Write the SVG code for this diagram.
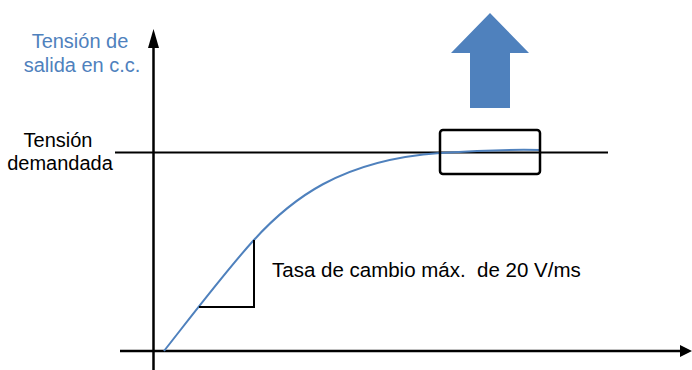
<svg xmlns="http://www.w3.org/2000/svg" width="692" height="370" viewBox="0 0 692 370">
<style>
.lbl{font-family:"Liberation Sans",Arial,sans-serif;font-size:20px;text-anchor:middle}
.blue{fill:#4F81BD}
.blk{fill:#000}
.ax{stroke:#000;stroke-width:2.5;fill:none}
.ln{stroke:#000;stroke-width:2;fill:none}
</style>
<g id="connectors">
<line class="ax" x1="153.5" y1="370" x2="153.5" y2="40"/>
<path d="M148,48 L153.5,29 L159,48 Z" fill="#000"/>
<line class="ax" x1="120" y1="351" x2="682" y2="351"/>
<path d="M680,345 L692,351 L680,357 Z" fill="#000"/>
<line class="ln" x1="115" y1="152.5" x2="608" y2="152.5"/>
<path d="M164,351 C190,318 225,272 253,241 C290,200 340,160 440,153 C470,151 500,149 541,150" fill="none" stroke="#4F81BD" stroke-width="2"/>
<path class="ln" d="M199,307 L254,307 L254,240"/>
</g>
<g id="box">
<rect x="440" y="130" width="100" height="44" rx="3" fill="none" stroke="#000" stroke-width="2.5"/>
</g>
<g id="up-arrow">
<path class="blue" d="M490,13 L529,53 L510,53 L510,108 L470,108 L470,53 L451,53 Z"/>
</g>
<g id="y-label">
<text class="lbl blue" x="80" y="48">Tensión de</text>
<text class="lbl blue" x="82" y="72">salida en c.c.</text>
</g>
<g id="demand-label">
<text class="lbl blk" x="58" y="147">Tensión</text>
<text class="lbl blk" x="60" y="170">demandada</text>
</g>
<g id="rate-label">
<text class="blk" x="272" y="277" xml:space="preserve" style="font-family:'Liberation Sans',Arial,sans-serif;font-size:20.5px;white-space:pre">Tasa de cambio máx.  de 20 V/ms</text>
</g>
</svg>
